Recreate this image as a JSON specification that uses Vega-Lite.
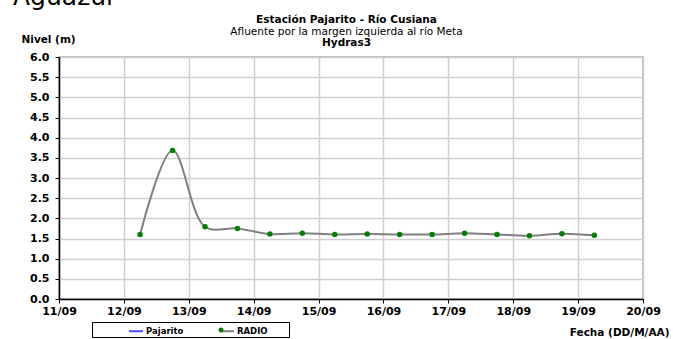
{
  "$schema": "https://vega.github.io/schema/vega-lite/v6.json",
  "width": 584,
  "height": 242,
  "autosize": {"type": "none"},
  "padding": {"left": 59, "top": 57, "right": 30, "bottom": 40},
  "background": "white",
  "title": {"text": "Aguazul", "anchor": "start", "frame": "group", "dx": -46, "fontSize": 25, "fontWeight": "normal", "font": "DejaVu Sans", "baseline": "alphabetic", "offset": -16, "color": "black"},
  "data": {"values": [
    {"fecha": "2012-09-12T06:00:00Z", "nivel": 1.60, "serie": "RADIO"},
    {"fecha": "2012-09-12T18:00:00Z", "nivel": 3.68, "serie": "RADIO"},
    {"fecha": "2012-09-13T06:00:00Z", "nivel": 1.79, "serie": "RADIO"},
    {"fecha": "2012-09-13T18:00:00Z", "nivel": 1.75, "serie": "RADIO"},
    {"fecha": "2012-09-14T06:00:00Z", "nivel": 1.61, "serie": "RADIO"},
    {"fecha": "2012-09-14T18:00:00Z", "nivel": 1.63, "serie": "RADIO"},
    {"fecha": "2012-09-15T06:00:00Z", "nivel": 1.60, "serie": "RADIO"},
    {"fecha": "2012-09-15T18:00:00Z", "nivel": 1.61, "serie": "RADIO"},
    {"fecha": "2012-09-16T06:00:00Z", "nivel": 1.60, "serie": "RADIO"},
    {"fecha": "2012-09-16T18:00:00Z", "nivel": 1.60, "serie": "RADIO"},
    {"fecha": "2012-09-17T06:00:00Z", "nivel": 1.63, "serie": "RADIO"},
    {"fecha": "2012-09-17T18:00:00Z", "nivel": 1.60, "serie": "RADIO"},
    {"fecha": "2012-09-18T06:00:00Z", "nivel": 1.57, "serie": "RADIO"},
    {"fecha": "2012-09-18T18:00:00Z", "nivel": 1.62, "serie": "RADIO"},
    {"fecha": "2012-09-19T06:00:00Z", "nivel": 1.58, "serie": "RADIO"}
  ]},
  "resolve": {"axis": {"x": "independent", "y": "independent"}},
  "layer": [
    {
      "mark": {"type": "line", "interpolate": "catmull-rom", "strokeWidth": 2},
      "encoding": {
        "x": {"field": "fecha", "type": "temporal",
          "scale": {"type": "utc", "domain": [{"year": 2012, "month": 9, "date": 11, "utc": true}, {"year": 2012, "month": 9, "date": 20, "utc": true}], "nice": false},
          "axis": {"orient": "bottom",
            "values": [{"year": 2012, "month": 9, "date": 11, "utc": true}, {"year": 2012, "month": 9, "date": 12, "utc": true}, {"year": 2012, "month": 9, "date": 13, "utc": true}, {"year": 2012, "month": 9, "date": 14, "utc": true}, {"year": 2012, "month": 9, "date": 15, "utc": true}, {"year": 2012, "month": 9, "date": 16, "utc": true}, {"year": 2012, "month": 9, "date": 17, "utc": true}, {"year": 2012, "month": 9, "date": 18, "utc": true}, {"year": 2012, "month": 9, "date": 19, "utc": true}, {"year": 2012, "month": 9, "date": 20, "utc": true}],
            "labelExpr": "utcFormat(datum.value, '%d/%m')",
            "labelFlush": false, "labelOverlap": false, "tickSize": 4, "labelPadding": 2,
            "grid": true, "domainWidth": 1.5,
            "title": "Fecha (DD/M/AA)", "titleX": 610, "titleY": 36, "titleAlign": "right", "titleBaseline": "alphabetic", "titleAnchor": null}},
        "y": {"field": "nivel", "type": "quantitative",
          "scale": {"domain": [0, 6], "nice": false, "zero": true},
          "axis": {"orient": "left", "values": [0, 0.5, 1, 1.5, 2, 2.5, 3, 3.5, 4, 4.5, 5, 5.5, 6], "format": ".1f",
            "tickSize": 4, "labelPadding": 6, "grid": true, "labelOverlap": false, "domainWidth": 1.5,
            "title": "Nivel (m)", "titleAngle": 0, "titleAlign": "left", "titleBaseline": "alphabetic", "titleX": -38, "titleY": -15}},
        "stroke": {"field": "serie", "type": "nominal",
          "scale": {"domain": ["Pajarito", "RADIO"], "range": ["#4d4dff", "#808080"]},
          "legend": {"orient": "none", "legendX": 33, "legendY": 265, "direction": "horizontal", "title": null,
            "symbolType": "stroke", "symbolSize": 196, "symbolStrokeWidth": 2, "symbolOffset": 35, "labelOffset": 2,
            "columnPadding": -3, "padding": 1, "strokeColor": "black", "fillColor": "white",
            "labelFont": "DejaVu Sans", "labelFontWeight": "bold", "labelFontSize": 8.5, "labelColor": "black",
            "labelExpr": "datum.label == 'RADIO' ? 'RADIO\u2800\u2800\u2800' : datum.label"}}
      }
    },
    {
      "mark": {"type": "point", "filled": true, "size": 30, "opacity": 1, "strokeWidth": 0},
      "encoding": {
        "x": {"field": "fecha", "type": "temporal",
          "axis": {"orient": "top", "values": [{"year": 2012, "month": 9, "date": 15, "hours": 12, "utc": true}],
            "labelExpr": "'Hydras3'", "labelFlush": false, "labelOverlap": false, "labelOffset": -5, "labelBaseline": "alphabetic",
            "labelPadding": 12, "ticks": false, "tickSize": 0, "domain": false, "grid": false, "labelFontSize": 10.5,
            "title": "Afluente por la margen izquierda al río Meta", "titleFontWeight": "normal", "titleX": 287, "titleY": -23,
            "titleBaseline": "alphabetic", "titleAlign": "center", "titleAnchor": null}},
        "y": {"field": "nivel", "type": "quantitative", "axis": null},
        "fill": {"field": "serie", "type": "nominal",
          "scale": {"domain": ["RADIO"], "range": ["#008000"]},
          "legend": {"orient": "none", "legendX": 154, "legendY": 265, "title": null,
            "symbolType": "M-0.36,0A0.36,0.36 0 1,1 0.36,0A0.36,0.36 0 1,1 -0.36,0Z", "symbolSize": 196, "symbolStrokeWidth": 0,
            "symbolOffset": 0, "padding": 1, "labelExpr": "''", "labelColor": "transparent", "labelFont": "DejaVu Sans", "labelFontWeight": "bold", "labelFontSize": 8.5}}
      }
    },
    {
      "transform": [{"filter": "datum.serie === 'Pajarito'"}],
      "mark": {"type": "line", "strokeWidth": 2},
      "encoding": {
        "x": {"field": "fecha", "type": "temporal",
          "axis": {"orient": "top", "labels": false, "ticks": false, "domain": false, "grid": false,
            "title": "Estación Pajarito - Río Cusiana", "titleX": 287, "titleY": -35, "titleBaseline": "alphabetic", "titleAlign": "center", "titleAnchor": null}},
        "y": {"field": "nivel", "type": "quantitative", "axis": null},
        "stroke": {"field": "serie", "type": "nominal"}
      }
    }
  ],
  "config": {
    "font": "DejaVu Sans",
    "view": {"stroke": "#a6a6a6", "strokeWidth": 1.5},
    "axis": {"labelFont": "DejaVu Sans", "labelFontWeight": "bold", "labelFontSize": 11, "labelColor": "black",
      "titleFont": "DejaVu Sans", "titleFontWeight": "bold", "titleFontSize": 10.5, "titleColor": "black",
      "domainColor": "black", "tickColor": "black", "gridColor": "#cfcfcf", "gridWidth": 1.5}
  }
}
